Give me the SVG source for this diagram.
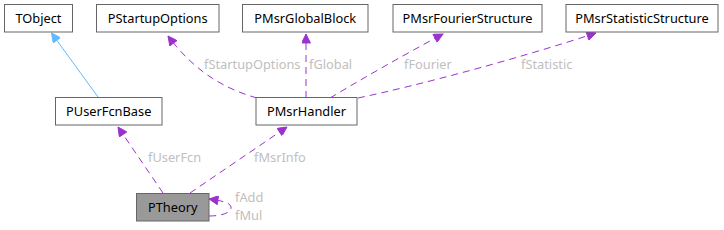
<svg xmlns="http://www.w3.org/2000/svg" width="724" height="230" viewBox="0 0 724 230">
<style>
.node rect{fill:#ffffff;stroke:#666666;stroke-width:1}
.node text{font-family:"Noto Sans","Open Sans",sans-serif;font-size:12.8px;fill:#000000;text-anchor:middle}
#PTheory rect{fill:#999999}
.e{fill:none;stroke:#9a32cd;stroke-width:1;stroke-dasharray:7,5}
.inh{fill:none;stroke:#63b8ff;stroke-width:1}
.lbl{font-family:"Noto Sans","Open Sans",sans-serif;font-size:12.8px;fill:#c0c0c0}
</style>
<defs>
<marker id="ap" viewBox="0 0 10 10" refX="10" refY="5" markerWidth="12" markerHeight="9" markerUnits="userSpaceOnUse" orient="auto">
<path d="M0,0 L10,5 L0,10 z" fill="#9a32cd" stroke="#9a32cd" stroke-width="1"/>
</marker>
<marker id="ab" viewBox="0 0 10 10" refX="10" refY="5" markerWidth="12" markerHeight="9" markerUnits="userSpaceOnUse" orient="auto">
<path d="M0,0 L10,5 L0,10 z" fill="#63b8ff" stroke="#63b8ff" stroke-width="1"/>
</marker>
</defs>
<g id="connectors">
<path class="inh" d="M98,97 L51.5,33" marker-end="url(#ab)"/>
<path class="e" d="M163,193 L118,127" marker-end="url(#ap)"/>
<path class="e" d="M190,193 L287,127" marker-end="url(#ap)"/>
<path class="e" d="M209,216 C223,216 232,212 231,207 C230,203 224,201 209,199" marker-end="url(#ap)"/>
<path class="e" d="M257,98 C225,89 195,72 168,36" marker-end="url(#ap)"/>
<path class="e" d="M306,98 L306,34" marker-end="url(#ap)"/>
<path class="e" d="M330,98 C360,80 400,57 443,34" marker-end="url(#ap)"/>
<path class="e" d="M358,98 C420,85 520,58 596,33" marker-end="url(#ap)"/>
<text class="lbl" x="148" y="162">fUserFcn</text>
<text class="lbl" x="254" y="162">fMsrInfo</text>
<text class="lbl" x="235" y="202">fAdd</text>
<text class="lbl" x="235" y="220">fMul</text>
<text class="lbl" x="204" y="69">fStartupOptions</text>
<text class="lbl" x="309" y="69">fGlobal</text>
<text class="lbl" x="404" y="69">fFourier</text>
<text class="lbl" x="521" y="69">fStatistic</text>
</g>
<g id="TObject" class="node"><rect x="4.5" y="4.5" width="68" height="27.5"/><text x="38.5" y="22.5">TObject</text></g>
<g id="PStartupOptions" class="node"><rect x="96.5" y="4.5" width="122.5" height="27.5"/><text x="157.75" y="22.5">PStartupOptions</text></g>
<g id="PMsrGlobalBlock" class="node"><rect x="242.5" y="4.5" width="125.5" height="27.5"/><text x="305.25" y="22.5">PMsrGlobalBlock</text></g>
<g id="PMsrFourierStructure" class="node"><rect x="393" y="4.5" width="149" height="27.5"/><text x="467.5" y="22.5">PMsrFourierStructure</text></g>
<g id="PMsrStatisticStructure" class="node"><rect x="566" y="4.5" width="152" height="27.5"/><text x="642" y="22.5">PMsrStatisticStructure</text></g>
<g id="PUserFcnBase" class="node"><rect x="55.5" y="97.5" width="106.5" height="27.5"/><text x="108.75" y="115.5">PUserFcnBase</text></g>
<g id="PMsrHandler" class="node"><rect x="256" y="97.5" width="101" height="27.5"/><text x="306.5" y="115.5">PMsrHandler</text></g>
<g id="PTheory" class="node"><rect x="136.5" y="193.5" width="72.5" height="27.5"/><text x="172.75" y="211.5">PTheory</text></g>
</svg>
